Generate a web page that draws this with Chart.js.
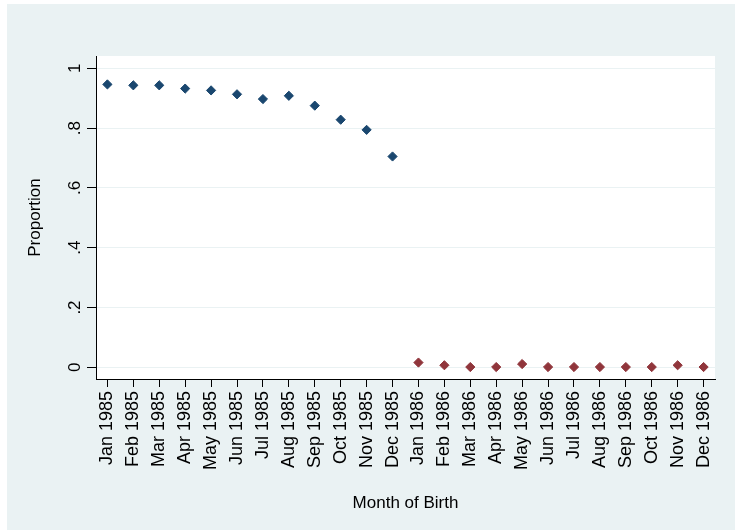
<!DOCTYPE html>
<html>
<head>
<meta charset="utf-8">
<script src="https://cdn.jsdelivr.net/npm/chart.js@4.4.1/dist/chart.umd.min.js"></script>
<style>
  html, body { margin: 0; padding: 0; background: #ffffff; }
  #wrap { position: relative; width: 735px; height: 530px; }
</style>
</head>
<body>
<div id="wrap"><canvas id="chart" width="735" height="530"></canvas></div>
<script>
// month labels along the x axis
const months = [
  "Jan 1985", "Feb 1985", "Mar 1985", "Apr 1985", "May 1985", "Jun 1985",
  "Jul 1985", "Aug 1985", "Sep 1985", "Oct 1985", "Nov 1985", "Dec 1985",
  "Jan 1986", "Feb 1986", "Mar 1986", "Apr 1986", "May 1986", "Jun 1986",
  "Jul 1986", "Aug 1986", "Sep 1986", "Oct 1986", "Nov 1986", "Dec 1986"
];
// proportion, births in 1985 (blue) and 1986 (red)
const share1985 = [0.946, 0.943, 0.943, 0.932, 0.926, 0.913, 0.897, 0.908, 0.875, 0.828, 0.794, 0.705];
const share1986 = [0.016, 0.007, 0.001, 0.001, 0.011, 0.001, 0.001, 0.001, 0.001, 0.001, 0.007, 0.001];
const yTicks = [0, 0.2, 0.4, 0.6, 0.8, 1];
const yTickLabels = ["0", ".2", ".4", ".6", ".8", "1"];

const bgColor = "#EAF2F3";
const navy = "#1A476F";
const maroon = "#90353B";
const font = "'Liberation Sans', Arial, sans-serif";

const backgrounds = {
  id: "backgrounds",
  beforeDraw(chart) {
    const { ctx, chartArea } = chart;
    ctx.save();
    ctx.fillStyle = "#ffffff";
    ctx.fillRect(0, 0, chart.width, chart.height);
    ctx.fillStyle = bgColor;
    ctx.fillRect(7, 4, chart.width - 7, chart.height - 4);
    ctx.fillStyle = "#ffffff";
    ctx.fillRect(chartArea.left, chartArea.top,
      chartArea.right - chartArea.left, chartArea.bottom - chartArea.top);
    ctx.restore();
  }
};

// y tick labels are written vertically, like the x ones
const yLabels = {
  id: "yLabels",
  afterDraw(chart) {
    const { ctx } = chart;
    const y = chart.scales.y;
    ctx.save();
    ctx.fillStyle = "#000";
    ctx.font = "17px " + font;
    ctx.textAlign = "center";
    ctx.textBaseline = "alphabetic";
    yTicks.forEach((v, i) => {
      ctx.save();
      ctx.translate(80, y.getPixelForValue(v));
      ctx.rotate(-Math.PI / 2);
      ctx.fillText(yTickLabels[i], 0, 0);
      ctx.restore();
    });
    ctx.restore();
  }
};

new Chart(document.getElementById("chart"), {
  type: "scatter",
  data: {
    datasets: [
      {
        data: share1985.map((v, i) => ({ x: i, y: v })),
        backgroundColor: navy,
        borderColor: navy,
        borderWidth: 1,
        pointStyle: "rectRot",
        pointRadius: 4.6,
      },
      {
        data: share1986.map((v, i) => ({ x: i + 12, y: v })),
        backgroundColor: maroon,
        borderColor: maroon,
        borderWidth: 1,
        pointStyle: "rectRot",
        pointRadius: 4.6,
      },
    ],
  },
  options: {
    responsive: false,
    animation: false,
    layout: { padding: { left: 0, top: 56, right: 20, bottom: 0 } },
    plugins: {
      legend: { display: false },
      tooltip: { enabled: false },
    },
    scales: {
      x: {
        type: "linear",
        min: -0.44,
        max: 23.44,
        afterFit: (s) => { s.height = 151; },
        afterBuildTicks: (s) => { s.ticks = months.map((m, i) => ({ value: i })); },
        ticks: {
          autoSkip: false,
          minRotation: 90,
          maxRotation: 90,
          padding: 4,
          color: "#000",
          font: { family: font, size: 18 },
          callback: (v) => months[v],
        },
        grid: { drawOnChartArea: false, tickLength: 8, tickColor: "#000" },
        border: { color: "#000", width: 1 },
        title: {
          display: true,
          text: "Month of Birth",
          color: "#000",
          font: { family: font, size: 17 },
          padding: { top: 0, bottom: 16 },
        },
      },
      y: {
        type: "linear",
        min: -0.039,
        max: 1.041,
        afterFit: (s) => { s.width = 96; },
        afterBuildTicks: (s) => { s.ticks = yTicks.map((v) => ({ value: v })); },
        ticks: { display: false },
        grid: { color: bgColor, tickLength: 9, tickColor: "#000" },
        border: { color: "#000", width: 1 },
        title: {
          display: true,
          text: "Proportion",
          color: "#000",
          font: { family: font, size: 17 },
          padding: { top: 25, bottom: 0 },
        },
      },
    },
  },
  plugins: [backgrounds, yLabels],
});
</script>
</body>
</html>
